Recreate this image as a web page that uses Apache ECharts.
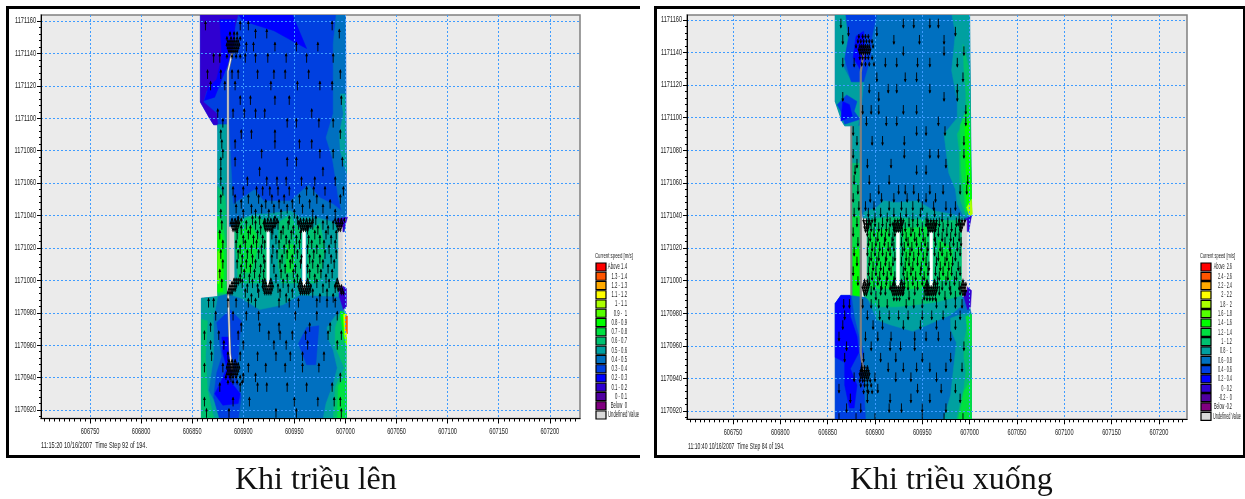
<!DOCTYPE html>
<html><head><meta charset="utf-8">
<style>html,body{margin:0;padding:0;background:#fff}#c{width:1245px;height:499px}</style>
<script src="https://cdn.jsdelivr.net/npm/echarts@6/dist/echarts.min.js"></script>
</head><body><div id="c"></div>
<script>
// ---- tick labels ----
const xTicks=[606750,606800,606850,606900,606950,607000,607050,607100,607150,607200];
const yTicks=[1170920,1170940,1170960,1170980,1171000,1171020,1171040,1171060,1171080,1171100,1171120,1171140,1171160];
// ---- legend ----
const legendColors=['#ff0000','#ff5500','#ffaa00','#ffff00','#aaff00','#55ff00','#00ff00','#00e040','#00c070','#00a0a0','#0070c0','#0040e0','#0000ff','#3000d0','#5000a0','#800080','#d9d9d9'];
const legendLeft=['Above 1.4','1.3 - 1.4','1.2 - 1.3','1.1 - 1.2','1 - 1.1','0.9 -  1','0.8 - 0.9','0.7 - 0.8','0.6 - 0.7','0.5 - 0.6','0.4 - 0.5','0.3 - 0.4','0.2 - 0.3','0.1 - 0.2','0 - 0.1','Below  0','Undefined Value'];
const legendRight=['Above  2.6','2.4 - 2.6','2.2 - 2.4','2 - 2.2','1.8 -  2','1.6 - 1.8','1.4 - 1.6','1.2 - 1.4','1 - 1.2','0.8 -  1','0.6 - 0.8','0.4 - 0.6','0.2 - 0.4','0 - 0.2','-0.2 -  0','Below -0.2','Undefined Value'];
const legendTitle='Current speed [m/s]';
const stampLeft='11:15:20 10/16/2007  Time Step 92 of 194.';
const stampRight='11:10:40 10/16/2007  Time Step 84 of 194.';
const captionLeft='Khi triều lên';
const captionRight='Khi triều xuống';

// ---- speed bands: [legend level, outline in map coordinates] ----
const leftBands=[
[11,[[606858,1171164],[607000,1171164],[607001,1171041],[606999,1171030],[606890,1171030],[606885,1171040],[606875,1171096],[606871,1171096],[606867,1171100],[606858,1171110]]],
[12,[[606895,1171164],[606948,1171164],[606962,1171143],[606950,1171147],[606930,1171154],[606900,1171160]]],
[13,[[606858,1171164],[606895,1171164],[606890,1171152],[606884,1171132],[606874,1171119],[606864,1171117],[606861,1171110],[606874,1171103],[606875,1171096],[606871,1171096],[606867,1171100],[606858,1171110]]],
[12,[[606877,1171161],[606892,1171161],[606891,1171146],[606884,1171132],[606872,1171113],[606862,1171111],[606866,1171119],[606874,1171124],[606879,1171138]]],
[10,[[606991,1171164],[607000,1171164],[607001,1171041],[606997,1171041],[606993,1171051],[606990,1171064],[606987,1171076],[606981,1171088],[606988,1171103],[606988,1171121],[606988,1171146]]],
[9,[[606995,1171115],[607000,1171115],[607001,1171066],[606995,1171080],[606994,1171090],[606998,1171103]]],
[10,[[606875,1171096],[606886,1171096],[606888,1171070],[606890,1171047],[606890,1171033],[606875,1171033]]],
[10,[[606890,1171039],[606890,1171047],[606911,1171056],[606920,1171049],[606946,1171049],[606964,1171059],[606975,1171051],[606988,1171047],[607000,1171041],[606998,1171033],[606890,1171033]]],
[9,[[606891,1171033],[606897,1171038],[606911,1171041],[606923,1171041],[606946,1171043],[606955,1171039],[606971,1171039],[606988,1171036],[606995,1171031],[606993,1170990],[606955,1170991],[606939,1170985],[606916,1170982],[606898,1170989],[606891,1170991]]],
[8,[[606891,1171030],[606897,1171037],[606910,1171040],[606921,1171037],[606923,1171030],[606923,1170995],[606916,1170990],[606904,1170990],[606895,1171000]]],
[8,[[606935,1171036],[606945,1171040],[606957,1171030],[606956,1171000],[606948,1170992],[606938,1170995],[606934,1171010]]],
[8,[[606963,1171030],[606975,1171035],[606980,1171020],[606975,1171000],[606966,1170996],[606963,1171000]]],
[7,[[606897,1171031],[606908,1171034],[606916,1171025],[606908,1171005],[606899,1171005],[606894,1171020]]],
[7,[[606942,1171022],[606950,1171022],[606950,1171005],[606942,1171005]]],
[9,[[606875,1171096],[606885,1171096],[606885,1170990],[606875,1170990]]],
[8,[[606875,1171058],[606882,1171052],[606885,1171030],[606885,1170990],[606875,1170990]]],
[7,[[606875,1171040],[606880,1171035],[606884,1171015],[606884,1170992],[606875,1170992]]],
[6,[[606875,1171030],[606879,1171028],[606881,1171012],[606880,1170993],[606875,1170993]]],
[5,[[606875,1171018],[606877,1171018],[606878,1171004],[606876,1170998],[606875,1170998]]],
[10,[[606859,1170989],[606875,1170990],[606888,1170992],[606998,1170992],[606998,1170982],[607001,1170914],[606859,1170914]]],
[9,[[606888,1170991],[606898,1170989],[606916,1170982],[606939,1170985],[606955,1170991],[606993,1170990],[606993,1170998],[606888,1170998]]],
[9,[[606859,1170989],[606875,1170990],[606871,1170977],[606871,1170953],[606866,1170932],[606871,1170926],[606877,1170914],[606859,1170914]]],
[8,[[606859,1170976],[606865,1170975],[606863,1170953],[606865,1170932],[606870,1170918],[606872,1170914],[606859,1170914]]],
[11,[[606874,1170974],[606887,1170982],[606898,1170975],[606895,1170953],[606893,1170943],[606898,1170928],[606895,1170914],[606877,1170914],[606871,1170928],[606874,1170943],[606879,1170953]]],
[12,[[606879,1170965],[606887,1170965],[606889,1170945],[606887,1170938],[606897,1170930],[606895,1170924],[606880,1170923],[606872,1170930],[606877,1170936],[606884,1170946],[606880,1170955]]],
[11,[[606954,1170961],[606962,1170971],[606974,1170972],[606971,1170948],[606962,1170948]]],
[9,[[606982,1170971],[606990,1170978],[606999,1170982],[607001,1170914],[606978,1170914],[606981,1170924],[606988,1170936],[606992,1170946],[606988,1170957],[606983,1170964]]],
[8,[[606990,1170971],[606996,1170981],[607001,1170979],[607001,1170914],[606988,1170914],[606990,1170934],[606999,1170946],[606990,1170959]]],
[7,[[606992,1170914],[606993,1170935],[607001,1170941],[607001,1170914]]],
[6,[[606995,1170981],[607001,1170979],[607001,1170958],[606998,1170965]]],
[4,[[606998,1170979],[607001,1170979],[607001,1170960],[606999,1170966]]],
[3,[[606999,1170979],[607001,1170979],[607001,1170965],[607000,1170968]]],
[1,[[607000,1170978],[607002,1170978],[607002,1170967],[607000,1170970]]],
[13,[[606994,1170998],[607001,1170995],[607001,1170984],[606998,1170982],[606994,1170990]]],
[13,[[606992,1171038],[607002,1171039],[606998,1171030],[606993,1171031]]],
[16,[[606885,1171033],[606891,1171033],[606891,1170995],[606885,1170995]]],
[16,[[606993,1171033],[606997,1171033],[606997,1170996],[606993,1170996]]]
];
const rightBands=[
[10,[[606858,1171164],[607000,1171164],[607002,1171040],[606998,1171030],[606890,1171030],[606885,1171045],[606875,1171095],[606868,1171095],[606865,1171098],[606858,1171110]]],
[9,[[606858,1171164],[606875,1171164],[606871,1171136],[606866,1171132],[606875,1171122],[606888,1171122],[606885,1171103],[606882,1171095],[606868,1171095],[606865,1171098],[606858,1171110]]],
[11,[[606869,1171164],[606902,1171164],[606897,1171150],[606895,1171136],[606888,1171122],[606875,1171122],[606868,1171136],[606872,1171149]]],
[12,[[606880,1171150],[606888,1171153],[606890,1171136],[606884,1171130],[606877,1171137]]],
[11,[[606860,1171108],[606870,1171114],[606881,1171110],[606878,1171104],[606884,1171099],[606868,1171096],[606864,1171104]]],
[12,[[606864,1171098],[606876,1171101],[606873,1171108],[606866,1171110]]],
[9,[[606981,1171164],[607000,1171164],[607002,1171040],[606994,1171039],[606987,1171047],[606985,1171056],[606978,1171066],[606973,1171090],[606987,1171100],[606987,1171110],[606981,1171129],[606985,1171152]]],
[8,[[606993,1171145],[607000,1171129],[607002,1171045],[606996,1171040],[606990,1171050],[606989,1171080],[606987,1171090],[606996,1171100],[606996,1171115],[606994,1171130]]],
[7,[[606990,1171095],[607000,1171110],[607002,1171048],[606996,1171042],[606991,1171068]]],
[6,[[606995,1171095],[607000,1171100],[607002,1171050],[606997,1171043],[606996,1171070]]],
[4,[[606997,1171045],[607002,1171050],[607003,1171041],[607000,1171039]]],
[9,[[606888,1171042],[606902,1171045],[606909,1171049],[606923,1171048],[606945,1171049],[606962,1171043],[606980,1171041],[606994,1171039],[606996,1171033],[606888,1171033]]],
[8,[[606888,1171036],[606899,1171038],[606920,1171039],[606934,1171038],[606962,1171037],[606992,1171036],[606993,1171030],[606888,1171030]]],
[8,[[606891,1171037],[606992,1171037],[606992,1170994],[606960,1170987],[606935,1170985],[606910,1170984],[606891,1170987]]],
[7,[[606893,1171030],[606915,1171032],[606920,1171000],[606910,1170990],[606895,1170995]]],
[7,[[606930,1171032],[606955,1171033],[606955,1170996],[606945,1170990],[606932,1170996]]],
[7,[[606967,1171025],[606982,1171020],[606980,1171000],[606968,1171000]]],
[9,[[606875,1171095],[606885,1171095],[606885,1171068],[606875,1171068]]],
[8,[[606875,1171072],[606885,1171072],[606885,1171030],[606875,1171030]]],
[7,[[606875,1171040],[606885,1171040],[606885,1170990],[606875,1170990]]],
[6,[[606877,1171020],[606883,1171020],[606884,1170990],[606877,1170990]]],
[10,[[606858,1170986],[606864,1170991],[606875,1170991],[606885,1170990],[606998,1170990],[607002,1170979],[607002,1170914],[606858,1170914]]],
[11,[[606858,1170986],[606864,1170991],[606875,1170991],[606878,1170978],[606883,1170966],[606888,1170956],[606888,1170940],[606890,1170914],[606858,1170914]]],
[12,[[606858,1170986],[606864,1170991],[606874,1170991],[606874,1170978],[606881,1170966],[606883,1170956],[606874,1170946],[606881,1170936],[606878,1170922],[606873,1170922],[606868,1170936],[606868,1170950],[606858,1170953]]],
[9,[[606891,1170991],[606902,1170976],[606916,1170973],[606940,1170969],[606960,1170974],[606980,1170979],[606992,1170985],[606992,1170994],[606891,1170994]]],
[8,[[606888,1170991],[606902,1170984],[606923,1170984],[606940,1170985],[606965,1170987],[606992,1170991],[606992,1170995],[606888,1170995]]],
[9,[[606980,1170977],[606994,1170980],[607002,1170980],[607002,1170914],[606972,1170914],[606980,1170930],[606986,1170962],[606980,1170970]]],
[8,[[606994,1170962],[607000,1170980],[607002,1170980],[607002,1170914],[606986,1170914],[606994,1170934],[606996,1170944],[606994,1170953]]],
[7,[[606996,1170978],[607002,1170979],[607002,1170958],[606999,1170964]]],
[7,[[606988,1170914],[606994,1170932],[607002,1170940],[607002,1170914]]],
[13,[[606994,1170998],[607002,1170994],[607001,1170984],[606998,1170982],[606994,1170990]]],
[13,[[606994,1171037],[607002,1171040],[606999,1171030],[606993,1171032]]],
[16,[[606885,1171038],[606891,1171038],[606891,1170993],[606885,1170993]]],
[16,[[606992,1171037],[606997,1171037],[606997,1170994],[606992,1170994]]]
];
const leftSlots=[
[[606923,1171031],[606925.5,1171031],[606925.5,1170995],[606924,1170994],[606923,1170995]],
[[606958,1171031],[606961,1171031],[606961,1170995],[606959.5,1170994],[606958,1170995]]
];
const rightSlots=[
[[606922.5,1171030],[606926,1171030],[606926,1170996],[606924,1170995],[606922.5,1170996]],
[[606958,1171030],[606961,1171030],[606961,1170996],[606959.5,1170995],[606958,1170996]]
];
// ---- breakwater lines ----
const leftWall=[[606889,1171140],[606885,1171129],[606885,1171100],[606885,1171040],[606885,1170996],[606887,1170955],[606889,1170945]];
const rightWall=[[606888,1171140],[606885,1171128],[606885,1171060],[606885,1170990],[606885,1170956],[606888,1170944]];
const rightChannelEdge=[[606875,1171095],[606875,1170991]];
// ---- current vectors: [y, [x, x, ...]] ----
const leftArrows=[
[1171157,[606863,606897,606905,606987]],
[1171152,[606912,606923,606994]],
[1171144,[606903,606910,606931,606952,606973]],
[1171137,[606871,606877,606902,606912,606924,606942,606962,606988]],
[1171127,[606865,606878,606889,606895,606914,606930,606941,606964,606995]],
[1171120,[606868,606882,606892,606927,606953,606975,606987]],
[1171111,[606897,606907,606931,606945,606996]],
[1171103,[606875,606890,606901,606912,606921,606967]],
[1171097,[606880,606943,606952,606974,606988]],
[1171090,[606878,606898,606908,606931,606995]],
[1171084,[606879,606892,606931,606955,606967]],
[1171078,[606880,606918,606975,606988]],
[1171073,[606878,606892,606943,606952,606997]],
[1171067,[606878,606916,606978]],
[1171061,[606878,606904,606923,606933,606942,606957,606970,606990]],
[1171055,[606880,606890,606900,606913,606919,606926,606934,606945,606962,606969,606980,606998]],
[1171050,[606878,606892,606905,606915,606928,606940,606955,606972,606995]],
[1171047,[606898,606922,606935,606948,606965,606985]],
[1171044,[606893,606908,606918,606930,606943,606958,606978]],
[1171041,[606878,606900,606912,606925,606937,606950,606968,606990]],
[1171037,[606895,606909,606916,606931,606945,606953,606971,606982]],
[1171034,[606879,606893,606903,606912,606921,606934,606944,606954,606968,606978,606988]],
[1171031,[606898,606907,606917,606929,606939,606949,606963,606973,606983]],
[1171028,[606877,606894,606905,606914,606928,606937,606947,606956,606970,606981,606991]],
[1171025,[606900,606910,606919,606932,606942,606952,606964,606975,606986]],
[1171022,[606880,606893,606902,606913,606921,606935,606945,606955,606967,606979,606990]],
[1171019,[606897,606908,606918,606929,606940,606950,606963,606972,606984]],
[1171016,[606878,606895,606904,606915,606933,606943,606953,606969,606980,606991]],
[1171013,[606899,606909,606920,606928,606938,606948,606957,606965,606975,606986]],
[1171010,[606880,606894,606903,606912,606921,606936,606946,606956,606968,606978,606989]],
[1171007,[606898,606907,606917,606930,606941,606951,606963,606973,606983]],
[1171004,[606877,606901,606911,606920,606937,606949,606965,606976,606987]],
[1171001,[606897,606906,606916,606932,606943,606953,606970,606981]],
[1170998,[606879,606899,606909,606919,606939,606950,606972,606984]],
[1170995,[606904,606914,606934,606944,606966,606978,606990]],
[1170992,[606902,606915,606936,606948,606968,606982]],
[1170989,[606908,606942,606975,606988]],
[1170986,[606866,606871,606885,606893,606905,606912,606935,606945,606954,606972,606982,606990]],
[1170978,[606873,606890,606903,606915,606951,606972,606992]],
[1170971,[606868,606898,606916,606935,606965,606985]],
[1170966,[606862,606876,606895,606925,606936,606948,606961,606983,606996]],
[1170960,[606868,606881,606900,606930,606942,606963,606992]],
[1170953,[606869,606885,606897,606914,606932,606946,606958,606979]],
[1170946,[606862,606880,606905,606922,606941,606958,606974]],
[1170940,[606995,606888,606900,606912]],
[1170934,[606877,606897,606914,606923,606943,606962,606987]],
[1170925,[606862,606890,606906,606950,606973,606989,606995]],
[1170918,[606864,606886,606932,606952,606996]]
];
const rightArrows=[
[1171158,[606864,606930,606941,606958,606967]],
[1171153,[606902,606985,606872]],
[1171148,[606866,606920,606947,606973]],
[1171141,[606930,606973,606994]],
[1171134,[606866,606878,606911,606923,606945,606958,606987]],
[1171125,[606902,606932,606944,606993]],
[1171118,[606894,606914,606923,606958,606987]],
[1171113,[606866,606904,606973,606987]],
[1171105,[606887,606896,606904,606930,606944,606996]],
[1171098,[606891,606912,606923,606967,606996]],
[1171092,[606877,606944,606954,606974]],
[1171086,[606881,606897,606908,606931,606994]],
[1171078,[606877,606931,606958,606967,606994]],
[1171072,[606881,606892,606917,606975]],
[1171068,[606944,606954,606879]],
[1171062,[606878,606894,606915,606998]],
[1171056,[606882,606904,606925,606932,606941,606958,606972,606990,606997]],
[1171051,[606877,606895,606907,606920,606934,606946,606954,606964]],
[1171046,[606883,606890,606899,606915,606928,606940,606950,606962,606975,606985]],
[1171042,[606878,606893,606906,606920,606933,606948,606963,606980]],
[1171039,[606900,606913,606927,606940,606955,606971,606989]],
[1171036,[606881,606893,606900,606908,606916,606928,606936,606945,606954,606968,606977,606986]],
[1171033,[606896,606904,606912,606920,606932,606940,606950,606964,606972,606981,606990]],
[1171030,[606877,606892,606899,606907,606915,606921,606929,606938,606947,606956,606967,606976,606985]],
[1171027,[606895,606903,606911,606919,606933,606942,606951,606963,606971,606980,606989]],
[1171024,[606882,606893,606901,606910,606918,606928,606935,606944,606953,606964,606974,606983,606991]],
[1171021,[606897,606905,606914,606920,606931,606939,606949,606956,606969,606979,606987]],
[1171018,[606878,606892,606900,606908,606916,606929,606937,606946,606955,606963,606971,606980,606990]],
[1171015,[606896,606904,606912,606921,606933,606941,606951,606967,606976,606985]],
[1171012,[606881,606894,606902,606911,606919,606928,606936,606945,606954,606965,606974,606982]],
[1171009,[606898,606906,606915,606932,606940,606949,606957,606969,606978,606988]],
[1171006,[606877,606893,606901,606909,606917,606930,606938,606948,606956,606964,606972,606981,606990]],
[1171003,[606897,606905,606913,606921,606934,606943,606952,606968,606977,606986]],
[1171000,[606882,606894,606903,606912,606920,606931,606940,606950,606966,606975,606984]],
[1170997,[606899,606907,606916,606935,606945,606955,606971,606979,606989]],
[1170994,[606896,606906,606911,606930,606942,606956,606968,606980,606990]],
[1170991,[606901,606936,606952,606974,606985]],
[1170986,[606867,606873,606887,606896,606904,606913,606933,606941,606950,606965,606975,606985,606992]],
[1170979,[606868,606892,606905,606915,606925,606935,606950,606960,606972,606990]],
[1170973,[606866,606898,606908,606930,606948,606965,606985]],
[1170966,[606862,606890,606903,606917,606942,606954,606967,606980]],
[1170960,[606870,606896,606916,606927,606942,606994]],
[1170953,[606868,606888,606906,606922,606950,606980]],
[1170947,[606886,606914,606930,606944,606958,606975,606992]],
[1170941,[606878,606900,606922,606938,606965]],
[1170934,[606862,606892,606903,606945,606970,606985]],
[1170928,[606874,606892,606916,606938,606958,606990]],
[1170922,[606870,606885,606915,606928,606950,606975]],
[1170916,[606862,606880,606900,606950,606973,606993]]
];
// ---- tightly packed short vectors around the structures ----
const leftDense=[
[1171152,[606887,606891,606894]],
[1171149,[606884,606888,606891,606894,606897]],
[1171147,[606885,606887,606889,606891,606893,606895]],
[1171145,[606884,606886,606888,606890,606892,606894,606896]],
[1171143,[606885,606887,606889,606891,606893,606895]],
[1171141,[606886,606888,606890,606892,606894]],
[1171138,[606884,606889,606893,606897]],
[1171037,[606889,606892,606895,606898,606921,606924,606927,606930,606933,606956,606959,606962,606965,606968,606990,606993,606996,606999]],
[1171035,[606888,606890,606892,606894,606896,606920,606922,606924,606926,606928,606930,606932,606955,606957,606959,606961,606963,606965,606967,606991,606993,606995,606997]],
[1171033,[606889,606891,606893,606895,606921,606923,606925,606927,606929,606931,606956,606958,606960,606962,606964,606966,606992,606994,606996]],
[1171031,[606890,606892,606894,606922,606924,606926,606928,606957,606959,606961,606963,606993,606995]],
[1171000,[606891,606893,606895,606897,606921,606927,606956,606963,606992]],
[1170998,[606889,606891,606893,606895,606920,606922,606926,606928,606955,606957,606962,606964,606991,606993]],
[1170996,[606887,606889,606891,606893,606919,606921,606923,606925,606927,606929,606954,606956,606958,606960,606962,606964,606966,606990,606992,606994,606996]],
[1170994,[606886,606888,606890,606892,606920,606922,606924,606926,606928,606955,606957,606959,606961,606963,606965,606993,606995,606997]],
[1170992,[606885,606887,606889,606921,606923,606925,606927,606956,606958,606960,606962,606964,606996,606998]],
[1170950,[606886,606889,606892]],
[1170948,[606885,606887,606889,606891,606893,606895]],
[1170946,[606884,606886,606888,606890,606892,606894,606896]],
[1170944,[606885,606887,606889,606891,606893,606895]],
[1170942,[606884,606886,606888,606890,606892,606894]],
[1170940,[606883,606887,606890,606893,606897]],
[1170937,[606885,606890,606894,606899]]
];
const rightDense=[
[1171150,[606883,606887,606890,606893]],
[1171147,[606882,606885,606888,606891,606894,606897]],
[1171144,[606880,606884,606886,606888,606890,606892,606894,606898]],
[1171142,[606883,606885,606887,606889,606891,606893,606895]],
[1171140,[606884,606886,606888,606890,606892,606894]],
[1171137,[606884,606887,606890,606893,606897]],
[1171133,[606886,606890,606894,606899]],
[1171037,[606888,606891,606894,606897,606921,606924,606927,606930,606956,606959,606962,606965,606989,606992,606995]],
[1171035,[606889,606891,606893,606895,606919,606921,606923,606925,606927,606929,606955,606957,606959,606961,606963,606965,606988,606990,606992,606994]],
[1171033,[606889,606891,606893,606920,606922,606924,606926,606928,606956,606958,606960,606962,606964,606990,606992]],
[1171031,[606890,606892,606921,606923,606925,606927,606957,606959,606961,606963,606991]],
[1171000,[606889,606892,606920,606928,606955,606963,606993]],
[1170998,[606888,606890,606892,606894,606919,606921,606927,606929,606954,606956,606962,606964,606992,606994,606996]],
[1170996,[606887,606889,606891,606893,606917,606919,606921,606923,606925,606927,606929,606931,606952,606954,606956,606958,606960,606962,606964,606966,606991,606993,606995]],
[1170994,[606888,606890,606892,606918,606920,606922,606924,606926,606928,606930,606953,606955,606957,606959,606961,606963,606965,606992,606994,606996]],
[1170992,[606889,606891,606919,606921,606923,606925,606927,606929,606954,606956,606958,606960,606962,606964,606993,606995]],
[1170989,[606920,606923,606926,606955,606958,606961,606964]],
[1170947,[606886,606889,606892]],
[1170945,[606885,606887,606889,606891,606893]],
[1170943,[606884,606886,606888,606890,606892,606894]],
[1170941,[606885,606887,606889,606891,606893]],
[1170939,[606884,606887,606889,606892,606895]],
[1170936,[606885,606889,606892,606896]],
[1170932,[606888,606893,606897]]
];

// ---- helpers ----
const arrowStemLeft=5.5, arrowStemRight=5.5, denseStem=2.5;
const flat=(rows,len)=>rows.flatMap(r=>r[1].map(x=>[x,r[0],len]));
const textFont='"Liberation Sans",Arial,sans-serif';
function bandSeries(bands,ax,fillFor){
  return {type:'custom',xAxisIndex:ax,yAxisIndex:ax,coordinateSystem:'cartesian2d',clip:true,z:1,silent:true,animation:false,
    data:bands.map((b,i)=>[b[1][0][0],b[1][0][1],i]),
    renderItem:(p,api)=>{const b=bands[p.dataIndex];const lv=fillFor?fillFor:legendColors[b[0]];
      return {type:'polygon',shape:{points:b[1].map(q=>api.coord(q))},style:{fill:lv,stroke:lv,lineWidth:.5}};}};
}
function arrowSeries(items,ax,dir){
  return {type:'custom',xAxisIndex:ax,yAxisIndex:ax,coordinateSystem:'cartesian2d',clip:true,z:6,silent:true,animation:false,
    data:items,
    renderItem:(p,api)=>{const x=api.value(0),y=api.value(1),l=api.value(2);
      const a=api.coord([x,y-dir*l/2]),b=api.coord([x,y+dir*l/2]);const s=dir>0?1:-1;
      return {type:'group',children:[
        {type:'line',shape:{x1:a[0],y1:a[1],x2:b[0],y2:b[1]},style:{stroke:'#000',lineWidth:.9}},
        {type:'polygon',shape:{points:[[b[0],b[1]-s*1],[b[0]-1.4,b[1]+s*2.5],[b[0]+1.4,b[1]+s*2.5]]},style:{fill:'#000'}}]};}};
}
function lineSeries(pts,ax,color,w,z){
  return {type:'line',xAxisIndex:ax,yAxisIndex:ax,data:pts,showSymbol:false,symbol:'none',silent:true,animation:false,z:z||5,lineStyle:{color:color,width:w}};
}
// axis tick labels: real text squeezed to the narrow bitmap font of the source
function tickText(ticks,ax,kind,anchor){
  return {type:'custom',xAxisIndex:ax,yAxisIndex:ax,coordinateSystem:'cartesian2d',clip:false,z:7,silent:true,animation:false,
    data:ticks.map(t=>kind==='x'?[t,anchor]:[anchor,t]),
    renderItem:(p,api)=>{const c=api.coord([api.value(0),api.value(1)]);const v=String(api.value(kind==='x'?0:1));
      return {type:'text',x:kind==='x'?c[0]:c[0]-5,y:kind==='x'?c[1]+13.5:c[1],scaleX:.66,
        style:{text:v,font:'8.5px '+textFont,fill:'#222',align:kind==='x'?'center':'right',verticalAlign:'middle'}};}};
}
const minorX=[];for(let v=606705;v<=607225;v+=5)minorX.push(v);
const minorY=[];for(let v=1170916;v<=1171162;v+=4)minorY.push(v);
function axesFor(i,xr,yr){
  const gridLine={show:true,lineStyle:{color:'#3f9cff',type:[2,2],width:1}};
  const xa={gridIndex:i,type:'value',position:'bottom',min:xr[0],max:xr[1],z:3,
    axisLine:{show:true,onZero:false,lineStyle:{color:'#000'}},
    axisTick:{show:true,length:5,customValues:xTicks,lineStyle:{color:'#000'}},
    axisLabel:{show:false,customValues:xTicks},splitLine:gridLine};
  const xm={gridIndex:i,type:'value',position:'bottom',min:xr[0],max:xr[1],z:3,
    axisLine:{show:false,onZero:false},axisTick:{show:true,length:3,customValues:minorX,lineStyle:{color:'#000'}},
    axisLabel:{show:false},splitLine:{show:false}};
  const ya={gridIndex:i,type:'value',position:'left',min:yr[0],max:yr[1],z:3,
    axisLine:{show:true,onZero:false,lineStyle:{color:'#000'}},
    axisTick:{show:true,length:4,customValues:yTicks,lineStyle:{color:'#000'}},
    axisLabel:{show:false,customValues:yTicks},splitLine:gridLine};
  const ym={gridIndex:i,type:'value',position:'left',min:yr[0],max:yr[1],z:3,
    axisLine:{show:false,onZero:false},axisTick:{show:true,length:2,customValues:minorY,lineStyle:{color:'#000'}},
    axisLabel:{show:false},splitLine:{show:false}};
  return {x:[xa,xm],y:[ya,ym]};
}
const xRangeL=[606702,607229.6],yRangeL=[1170914.8,1171163.7];
const xRangeR=[606701.4,607229.7],yRangeR=[1170915,1171163];
const aL=axesFor(0,xRangeL,yRangeL);
const aR=axesFor(1,xRangeR,yRangeR);
function legendGraphics(x,labels,top,pitch,rightEdge,leftEdge,titleX,titleScale,labelScale){
  const out=[{type:'text',x:titleX,y:top-7,scaleX:titleScale,style:{text:legendTitle,font:'8px '+textFont,fill:'#222',align:'left',verticalAlign:'middle'}}];
  labels.forEach((t,i)=>{
    out.push({type:'rect',x:x,y:top+i*pitch,shape:{width:10,height:8},style:{fill:legendColors[i],stroke:'#000',lineWidth:1.2}});
    const last=i===labels.length-1;
    out.push({type:'text',x:last?leftEdge:rightEdge,y:top+i*pitch+4,scaleX:labelScale,style:{text:t,font:'8.5px '+textFont,fill:'#222',align:last?'left':'right',verticalAlign:'middle'}});
  });
  return out;
}
const frameBars=[[6,6,634,3],[6,455,634,3],[6,6,3,452],[654,6,591,3],[654,455,591,3],[654,6,3,452],[1243,6,2,452]];
const chart=echarts.init(document.getElementById('c'),null,{renderer:'canvas'});
chart.setOption({
  animation:false,backgroundColor:'#fff',
  grid:[
    {left:41,top:15,width:539,height:403.5,show:true,backgroundColor:'#ebebeb',borderColor:'#808080',borderWidth:1.5},
    {left:687,top:15,width:500,height:404.3,show:true,backgroundColor:'#ebebeb',borderColor:'#808080',borderWidth:1.5}
  ],
  xAxis:[aL.x[0],aL.x[1],aR.x[0],aR.x[1]],
  yAxis:[aL.y[0],aL.y[1],aR.y[0],aR.y[1]],
  series:[
    bandSeries(leftBands,0),
    bandSeries(leftSlots.map(s=>[16,s]),0,'#ffffff'),
    lineSeries(leftWall,0,'#777',2.4),lineSeries(leftWall,0,'#f4f4f4',1.1,5),
    arrowSeries(flat(leftArrows,arrowStemLeft),0,1),
    arrowSeries(flat(leftDense,denseStem),0,1),
    tickText(xTicks,0,'x',yRangeL[0]),
    tickText(yTicks,0,'y',xRangeL[0]),
    bandSeries(rightBands,2),
    bandSeries(rightSlots.map(s=>[16,s]),2,'#ffffff'),
    lineSeries(rightWall,2,'#808080',2.2),
    lineSeries(rightChannelEdge,2,'#808080',2),
    arrowSeries(flat(rightArrows,arrowStemRight),2,-1),
    arrowSeries(flat(rightDense,denseStem),2,-1),
    tickText(xTicks,2,'x',yRangeR[0]),
    tickText(yTicks,2,'y',xRangeR[0])
  ],
  graphic:[
    ...frameBars.map(b=>({type:'rect',x:b[0],y:b[1],shape:{width:b[2],height:b[3]},style:{fill:'#000'}})),
    ...legendGraphics(596,legendLeft,263,9.25,627,608,595,.54,.5),
    ...legendGraphics(1201,legendRight,263,9.33,1232,1213,1200,.5,.45),
    {type:'text',x:41,y:446,scaleX:.66,style:{text:stampLeft,font:'8.5px '+textFont,fill:'#222',align:'left',verticalAlign:'middle'}},
    {type:'text',x:688,y:447,scaleX:.6,style:{text:stampRight,font:'8.5px '+textFont,fill:'#222',align:'left',verticalAlign:'middle'}},
    {type:'text',x:235,y:481,style:{text:captionLeft,font:'32px "Liberation Serif",serif',fill:'#111',align:'left',verticalAlign:'middle'}},
    {type:'text',x:850,y:481,style:{text:captionRight,font:'32px "Liberation Serif",serif',fill:'#111',align:'left',verticalAlign:'middle'}}
  ]
});
</script></body></html>
